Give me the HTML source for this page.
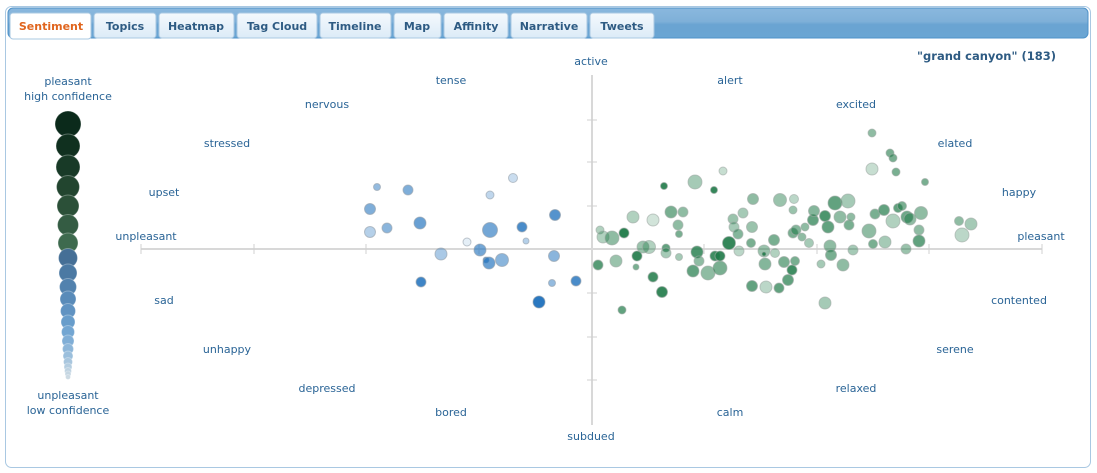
<!DOCTYPE html>
<html><head><meta charset="utf-8"><style>
body{margin:0;width:1097px;height:473px;background:#fff;overflow:hidden;font-family:"DejaVu Sans","Liberation Sans",sans-serif}
svg{position:absolute;left:0;top:0}
</style></head><body>
<svg width="1097" height="473" xmlns="http://www.w3.org/2000/svg">
<defs>
<linearGradient id="bar" x1="0" y1="0" x2="0" y2="1"><stop offset="0" stop-color="#8ab8de"/><stop offset="0.45" stop-color="#7fb0d8"/><stop offset="0.55" stop-color="#6aa4d2"/><stop offset="1" stop-color="#6aa5d3"/></linearGradient>
<linearGradient id="tab" x1="0" y1="0" x2="0" y2="1"><stop offset="0" stop-color="#f4f9fd"/><stop offset="1" stop-color="#dcebf7"/></linearGradient>
</defs>
<rect x="5.5" y="6.5" width="1085" height="461" rx="6" fill="#fff" stroke="#a9c8e2"/>
<rect x="8" y="8" width="1080" height="30" rx="5" fill="url(#bar)" stroke="#4f92c8"/>
<g font-size="11" font-weight="bold" fill="#2e5b83" text-anchor="middle">
<rect x="10" y="13" width="81" height="26" rx="3" fill="#fff" stroke="#a9c8e2"/><text x="51" y="30" fill="#e0651e">Sentiment</text>
<rect x="94" y="13" width="62" height="25" rx="3" fill="url(#tab)" stroke="#a9c8e2"/><text x="125" y="30">Topics</text>
<rect x="159" y="13" width="75" height="25" rx="3" fill="url(#tab)" stroke="#a9c8e2"/><text x="196" y="30">Heatmap</text>
<rect x="237" y="13" width="80" height="25" rx="3" fill="url(#tab)" stroke="#a9c8e2"/><text x="277" y="30">Tag Cloud</text>
<rect x="320" y="13" width="71" height="25" rx="3" fill="url(#tab)" stroke="#a9c8e2"/><text x="355" y="30">Timeline</text>
<rect x="394" y="13" width="47" height="25" rx="3" fill="url(#tab)" stroke="#a9c8e2"/><text x="417" y="30">Map</text>
<rect x="444" y="13" width="64" height="25" rx="3" fill="url(#tab)" stroke="#a9c8e2"/><text x="476" y="30">Affinity</text>
<rect x="511" y="13" width="76" height="25" rx="3" fill="url(#tab)" stroke="#a9c8e2"/><text x="549" y="30">Narrative</text>
<rect x="590" y="13" width="64" height="25" rx="3" fill="url(#tab)" stroke="#a9c8e2"/><text x="622" y="30">Tweets</text>
</g>
<text x="1056" y="60" font-size="11.5" font-weight="bold" fill="#2e5b83" text-anchor="end">"grand canyon" (183)</text>
<g stroke="#d8d8d8" stroke-width="2">
<line x1="141" y1="249" x2="1042" y2="249"/>
<line x1="592" y1="75" x2="592" y2="425"/>
</g>
<g stroke="#d0d0d0" stroke-width="1" id="ticks"></g>
<g font-size="11" fill="#2a6496" text-anchor="middle">
<text x="68" y="85">pleasant</text><text x="68" y="100">high confidence</text>
<text x="68" y="399">unpleasant</text><text x="68" y="414">low confidence</text>
<text x="591" y="65">active</text><text x="591" y="440">subdued</text>
<text x="451" y="84">tense</text><text x="730" y="84">alert</text>
<text x="327" y="108">nervous</text><text x="856" y="108">excited</text>
<text x="227" y="147">stressed</text><text x="955" y="147">elated</text>
<text x="164" y="196">upset</text><text x="1019" y="196">happy</text>
<text x="146" y="240">unpleasant</text><text x="1041" y="240">pleasant</text>
<text x="164" y="304">sad</text><text x="1019" y="304">contented</text>
<text x="227" y="353">unhappy</text><text x="955" y="353">serene</text>
<text x="327" y="392">depressed</text><text x="856" y="392">relaxed</text>
<text x="451" y="416">bored</text><text x="730" y="416">calm</text>
</g>
<g id="legend"></g>
<g id="dots"></g>
</svg>
<script>
var NS="http://www.w3.org/2000/svg";
function c(g,x,y,r,f,o,s){var e=document.createElementNS(NS,"circle");e.setAttribute("cx",x);e.setAttribute("cy",y);e.setAttribute("r",r);e.setAttribute("fill",f);e.setAttribute("fill-opacity",o);if(s){e.setAttribute("stroke",s);e.setAttribute("stroke-width","1");}g.appendChild(e);}
var t=document.getElementById("ticks");
[141,254,366,479,704,817,929,1042].forEach(function(x){var l=document.createElementNS(NS,"line");l.setAttribute("x1",x);l.setAttribute("x2",x);l.setAttribute("y1",244);l.setAttribute("y2",254);t.appendChild(l);});
[120,162,206,293,337,380].forEach(function(y){var l=document.createElementNS(NS,"line");l.setAttribute("x1",587);l.setAttribute("x2",597);l.setAttribute("y1",y);l.setAttribute("y2",y);t.appendChild(l);});
var lg=document.getElementById("legend");
var L=[[124,13,"#0b2a1b"],[146,12,"#10301f"],[167,12,"#183a27"],[187,11.5,"#22452f"],[206,11,"#2b5038"],[225,10.5,"#345c43"],[243,10,"#3e6a4e"],
[258,9.5,"#456f96"],[273,9,"#4b79a3"],[287,8.5,"#5282ae"],[299,8,"#598bb9"],[311,7.5,"#6093c2"],[322,7,"#689dcb"],[332,6.5,"#73a6d2"],[341,6,"#80aed6"],[349,5.5,"#8db6d9"],[356,5,"#9bbfdc"],[362,4.5,"#a8c6de"],[367,4,"#b4cde0"],[371,3.5,"#bdd2e1"],[374,3,"#c5d6e2"],[377,2.5,"#ccdae3"]];
L.forEach(function(a){c(lg,68,a[0],a[1],a[2],1,"rgba(255,255,255,0.3)");});
var d=document.getElementById("dots");
var B=[[377,187,3.5,.5],[408,190,5,.6],[370,209,5.5,.6],[370,232,5.5,.35],[387,228,5,.55],[420,223,6,.7],[513,178,4.5,.25],[490,195,4,.3],[555,215,5.5,.8],[490,230,7.5,.65],[522,227,5,.85],[467,242,4,.12],[526,241,3,.35],[441,254,6,.4],[480,250,6,.65],[486,260,3,.8],[489,263,6,.7],[502,260,6.5,.55],[554,256,5.5,.55],[421,282,5,.9],[552,283,3.5,.5],[576,281,5,.85],[539,302,6,1]];
B.forEach(function(a){c(d,a[0],a[1],a[2],"#2a78c0",a[3],"rgba(150,160,170,0.6)");});
var G=[[872,133,4,.5],[890,153,4,.6],[893,158,4,.6],[872,169,6,.25],[896,172,4,.6],[925,182,3.5,.6],[723,171,4,.25],[695,182,7,.4],[664,186,3.5,.9],[714,190,3.5,.9],[633,217,6,.35],[653,220,6,.2],[671,212,6,.6],[683,212,5,.5],[678,225,5,.5],[679,234,3.5,.6],[600,230,4,.35],[603,237,6,.35],[612,238,7,.5],[624,233,5,.95],[643,247,6,.45],[649,247,6.5,.35],[666,248,4,.7],[666,253,5,.4],[679,257,3.5,.4],[598,265,5,.75],[616,261,6,.45],[637,256,5,.9],[636,267,3,.6],[653,277,5,.85],[662,292,5.5,.9],[622,310,4,.7],[697,252,6,.8],[699,261,5,.5],[693,271,6,.7],[708,273,7,.5],[720,268,7,.6],[715,256,5,.85],[720,256,5,.9],[729,243,6.5,.9],[733,219,5,.45],[734,227,5,.4],[738,234,5,.55],[743,213,5,.4],[753,199,5.5,.5],[752,227,5.5,.45],[751,243,4.5,.6],[739,251,5,.3],[764,251,6,.45],[774,240,5.5,.6],[775,253,4.5,.35],[765,264,6,.55],[764,254,2,.9],[780,200,6.5,.45],[794,199,4.5,.3],[793,210,4,.45],[752,286,5.5,.7],[766,287,6,.3],[779,288,5,.7],[784,262,5.5,.6],[788,280,5.5,.7],[792,270,5,.85],[795,261,4.5,.6],[793,233,5,.6],[796,230,5,.55],[802,237,4,.5],[805,227,4,.5],[809,243,4.5,.4],[813,220,5.5,.7],[814,211,5.5,.55],[825,216,5.5,.8],[828,227,6,.7],[835,203,7,.7],[848,201,7,.4],[840,217,6,.5],[849,225,5,.6],[851,217,4,.5],[830,246,6,.5],[831,255,5.5,.6],[821,264,4,.4],[843,265,6,.5],[825,303,6,.4],[853,250,5,.4],[869,231,7,.5],[873,244,4.5,.6],[875,214,5,.6],[884,210,5.5,.7],[885,242,6,.4],[893,221,7,.35],[898,208,4.5,.7],[902,206,4.5,.6],[907,217,6,.65],[910,219,6,.5],[921,213,6.5,.5],[919,230,5,.5],[919,241,6,.7],[906,249,5,.45],[959,221,4.5,.5],[971,224,6,.4],[962,235,7,.3]];
G.forEach(function(a){c(d,a[0],a[1],a[2],"#1f7a48",a[3],"rgba(160,170,165,0.6)");});
</script>
</body></html>
